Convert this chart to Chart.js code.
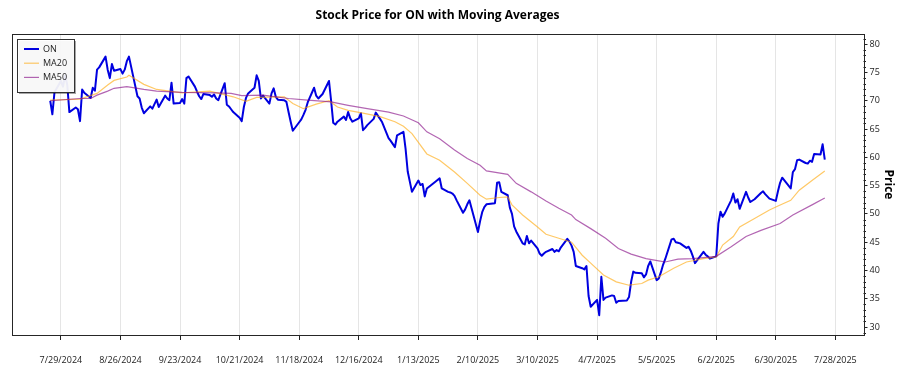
<!DOCTYPE html>
<html>
<head>
<meta charset="utf-8">
<script src="https://cdn.jsdelivr.net/npm/chart.js@4.4.1/dist/chart.umd.min.js"></script>
<style>
  html, body { margin: 0; padding: 0; background: #ffffff; }
  canvas { display: block; }
</style>
</head>
<body>
<canvas id="c" width="900" height="375"></canvas>
<script>
// ---------------- DATA ----------------
const startDate = '2024-07-24';
const endDate = '2025-07-23';
const marketHolidays = ['2024-09-02','2024-11-28','2024-12-25','2025-01-01','2025-01-09',
  '2025-01-20','2025-02-17','2025-04-18','2025-05-26','2025-06-19','2025-07-04'];

// ON daily close (one value per trading day)
const onClose = [
  70.0, 67.6, 71.5,
  73.5, 72.5, 74.5, 72.8, 68.0,
  68.8, 68.5, 66.4, 72.0, 71.4,
  70.5, 72.3, 71.8, 75.5, 75.9,
  77.8, 75.5, 74.0, 76.5, 75.3,
  75.6, 74.8, 75.5, 77.0, 77.8,
  70.8, 70.4, 68.8, 67.8,
  69.0, 68.6, 69.4, 70.2, 68.9,
  70.9, 70.4, 70.1, 73.2, 69.5,
  69.6, 70.3, 69.5, 74.0, 74.3,
  72.5, 71.6, 70.8, 70.3, 71.2,
  71.0, 70.7, 71.1, 70.4, 70.1,
  73.1, 69.3, 69.0, 68.5, 68.0,
  67.0, 66.4, 68.9, 70.5, 71.3,
  72.3, 74.5, 73.5, 70.4, 70.9,
  69.5, 71.3, 72.2, 70.7, 70.2,
  70.1, 69.8, 68.0, 66.3, 64.7,
  66.2, 66.7, 67.5, 68.4, 69.7,
  72.3, 70.9, 70.4, 71.2,
  73.5, 70.0, 66.1, 65.8, 66.3,
  67.2, 66.6, 68.0, 66.9, 66.3,
  66.9, 67.8, 64.8, 65.2, 65.7,
  66.8, 67.9, 66.8, 66.2,
  63.4, 62.9, 61.8, 63.9,
  64.5, 61.5, 57.5, 53.9,
  55.9, 55.1, 55.3, 53.1, 54.5,
  55.7, 56.0, 56.3, 54.5,
  53.9, 53.8, 53.6, 53.2, 52.4,
  50.2, 50.8, 51.7, 52.4, 51.0,
  46.8, 48.7, 50.3, 51.2, 51.7,
  51.9, 55.5, 55.6, 53.9,
  53.3, 51.1, 50.0, 47.8, 46.9,
  44.8, 44.6, 46.1, 44.8, 45.3,
  43.9, 43.0, 42.6, 43.0, 43.3,
  43.8, 43.3, 43.6, 43.4, 44.1,
  45.6, 45.1, 44.4, 43.3, 40.8,
  40.4, 40.2, 40.8, 35.5, 33.6,
  34.8, 32.1, 38.9, 34.8, 35.2,
  35.6, 35.5, 34.3, 34.6,
  34.7, 35.3, 38.0, 39.8, 39.6,
  39.5, 38.8, 39.3, 40.8, 41.6,
  38.3, 38.6, 39.7, 41.0, 42.0,
  45.5, 45.6, 45.0, 44.9, 44.8,
  44.0, 44.2, 43.5, 42.5, 41.3,
  43.3, 42.8, 42.5, 42.1,
  42.5, 48.3, 50.4, 49.5, 50.1,
  52.4, 53.6, 52.0, 52.6, 50.9,
  53.9, 52.9, 52.1, 52.6,
  53.7, 54.0, 53.5, 53.1, 52.7,
  52.3, 54.0, 55.5, 56.4,
  54.5, 57.4, 57.9, 59.5, 59.6,
  59.0, 58.9, 59.4, 59.2, 60.6,
  60.5, 62.3, 59.6
];

const ma20Dates = ['2024-07-24','2024-08-07','2024-08-15','2024-08-20','2024-08-23','2024-08-29','2024-08-30',
  '2024-09-06','2024-09-12','2024-09-24','2024-10-07','2024-10-18','2024-10-24','2024-10-29','2024-11-11',
  '2024-11-15','2024-11-20','2024-11-26','2024-12-02','2024-12-06','2024-12-11','2024-12-18','2024-12-26',
  '2025-01-02','2025-01-06','2025-01-10','2025-01-17','2025-01-23','2025-01-30','2025-02-05','2025-02-11',
  '2025-02-14','2025-02-20','2025-02-24','2025-02-26','2025-03-03','2025-03-10','2025-03-14','2025-03-20',
  '2025-03-26','2025-03-31','2025-04-04','2025-04-10','2025-04-16','2025-04-22','2025-04-28','2025-05-01',
  '2025-05-06','2025-05-13','2025-05-19','2025-05-27','2025-06-02','2025-06-05','2025-06-10','2025-06-13',
  '2025-06-20','2025-06-27','2025-07-01','2025-07-07','2025-07-11','2025-07-17','2025-07-23'];
const ma20Values = [70.1, 70.3, 71.3, 72.8, 73.6, 74.2, 74.5,
  72.9, 72.0, 71.4, 71.7, 70.7, 69.9, 70.6, 70.7,
  69.5, 68.6, 69.4, 70.0, 68.9, 68.3, 67.8, 67.2,
  66.3, 65.5, 64.2, 60.6, 59.5, 57.4, 55.4, 53.3,
  52.6, 52.9, 53.0, 51.6, 49.8, 47.7, 46.4, 45.7,
  45.0, 42.7, 41.3, 39.2, 38.0, 37.4, 37.7, 38.3,
  38.9, 40.4, 41.5, 42.1, 42.4, 44.5, 46.0, 47.7,
  49.2, 50.7, 51.4, 52.4, 54.2, 55.9, 57.6];

const ma50Dates = ['2024-07-24','2024-08-07','2024-08-12','2024-08-15','2024-08-20','2024-08-23','2024-08-29',
  '2024-09-06','2024-09-12','2024-09-24','2024-10-10','2024-10-17','2024-10-22','2024-11-01','2024-11-13',
  '2024-11-22','2024-12-03','2024-12-11','2024-12-20','2024-12-30','2025-01-06','2025-01-13','2025-01-17',
  '2025-01-23','2025-01-30','2025-02-05','2025-02-11','2025-02-14','2025-02-24','2025-02-28','2025-03-07',
  '2025-03-14','2025-03-20','2025-03-26','2025-03-28','2025-04-04','2025-04-11','2025-04-17','2025-04-23',
  '2025-04-30','2025-05-06','2025-05-09','2025-05-15','2025-05-22','2025-06-02','2025-06-09','2025-06-16',
  '2025-06-23','2025-07-02','2025-07-08','2025-07-17','2025-07-23'];
const ma50Values = [70.0, 70.4, 70.4, 71.0, 71.7, 72.2, 72.5,
  72.0, 71.7, 71.5, 71.4, 71.3, 70.9, 71.0, 70.4,
  70.1, 69.8, 69.2, 68.6, 68.0, 67.3, 66.1, 64.5,
  63.3, 61.3, 59.8, 58.6, 57.6, 57.0, 55.4, 53.9,
  52.3, 51.0, 49.8, 49.0, 47.4, 45.7, 43.9, 42.9,
  42.1, 41.7, 41.5, 42.0, 42.1, 42.5, 44.2, 46.0,
  47.1, 48.3, 49.8, 51.6, 52.8];

const xTickLabels = ['7/29/2024','8/26/2024','9/23/2024','10/21/2024','11/18/2024','12/16/2024',
  '1/13/2025','2/10/2025','3/10/2025','4/7/2025','5/5/2025','6/2/2025','6/30/2025','7/28/2025'];
const yMajorTicks = [30, 35, 40, 45, 50, 55, 60, 65, 70, 75, 80];

// ---------------- HELPERS ----------------
const DAY = 86400000;
function isoToUTC(iso) { const p = iso.split('-').map(Number); return Date.UTC(p[0], p[1] - 1, p[2]); }
function mdyToUTC(s) { const p = s.split('/').map(Number); return Date.UTC(p[2], p[0] - 1, p[1]); }
const T0 = isoToUTC(startDate);
const dayOf = iso => (isoToUTC(iso) - T0) / DAY;

const tradingDays = [];
for (let t = T0; t <= isoToUTC(endDate); t += DAY) {
  const dt = new Date(t);
  const wd = dt.getUTCDay();
  const iso = dt.toISOString().slice(0, 10);
  if (wd === 0 || wd === 6 || marketHolidays.includes(iso)) continue;
  tradingDays.push(iso);
}
const onPoints = tradingDays.slice(0, onClose.length).map((d, i) => ({ x: dayOf(d), y: onClose[i] }));
const ma20Points = ma20Dates.map((d, i) => ({ x: dayOf(d), y: ma20Values[i] }));
const ma50Points = ma50Dates.map((d, i) => ({ x: dayOf(d), y: ma50Values[i] }));
const xTickDays = xTickLabels.map(s => (mdyToUTC(s) - T0) / DAY);
const lastDay = dayOf(endDate);
const xMin = -0.05 * lastDay, xMax = lastDay * 1.05;

const FONT = '"Open Sans", "Noto Sans", sans-serif';
const COL_ON = '#0000e0';
const COL_MA20 = 'rgba(255,165,0,0.6)';
const COL_MA50 = 'rgba(128,0,128,0.6)';

// ---------------- PLUGINS ----------------
const framePlugin = {
  id: 'frameAndLegend',
  afterDatasetsDraw(chart) {
    const { ctx, chartArea: a } = chart;
    const ys = chart.scales.y;
    ctx.save();
    // minor ticks on right axis
    ctx.strokeStyle = '#222';
    ctx.lineWidth = 1;
    for (let v = Math.ceil(ys.min); v <= Math.floor(ys.max); v++) {
      if (v % 5 === 0) continue;
      const py = Math.round(ys.getPixelForValue(v)) + 0.5;
      ctx.beginPath(); ctx.moveTo(a.right, py); ctx.lineTo(a.right + 2.5, py); ctx.stroke();
    }
    // frame
    ctx.strokeStyle = '#262626';
    ctx.lineWidth = 1;
    ctx.strokeRect(Math.round(a.left) + 0.5, Math.round(a.top) + 0.5,
      Math.round(a.right) - Math.round(a.left), Math.round(a.bottom) - Math.round(a.top));

    // legend
    const items = chart.data.datasets.map(ds => ({ label: ds.label, color: ds.borderColor, w: ds.borderWidth }));
    const lx = Math.round(a.left) + 5, ly = Math.round(a.top) + 5;
    const lw = 57, lh = 53;
    ctx.fillStyle = 'rgba(0,0,0,0.35)';
    ctx.fillRect(lx + 2, ly + 2, lw, lh);
    ctx.fillStyle = 'rgba(255,255,255,0.92)';
    ctx.fillRect(lx, ly, lw, lh);
    ctx.strokeStyle = '#333';
    ctx.strokeRect(lx + 0.5, ly + 0.5, lw, lh);
    ctx.font = '9px ' + FONT;
    ctx.textBaseline = 'middle';
    ctx.textAlign = 'left';
    items.forEach((it, i) => {
      const yy = ly + 10 + i * 14.2;
      ctx.strokeStyle = it.color;
      ctx.lineWidth = it.w;
      ctx.beginPath(); ctx.moveTo(lx + 7, yy); ctx.lineTo(lx + 22, yy); ctx.stroke();
      ctx.fillStyle = '#222';
      ctx.fillText(it.label, lx + 26, yy);
    });
    ctx.restore();
  }
};

// ---------------- CHART ----------------
new Chart(document.getElementById('c').getContext('2d'), {
  type: 'line',
  data: {
    datasets: [
      { label: 'ON', data: onPoints, borderColor: COL_ON, borderWidth: 2, pointRadius: 0,
        tension: 0, borderJoinStyle: 'round', order: 3 },
      { label: 'MA20', data: ma20Points, borderColor: COL_MA20, borderWidth: 1.2, pointRadius: 0,
        tension: 0, order: 2 },
      { label: 'MA50', data: ma50Points, borderColor: COL_MA50, borderWidth: 1.2, pointRadius: 0,
        tension: 0, order: 1 }
    ]
  },
  options: {
    responsive: false,
    animation: false,
    devicePixelRatio: 1,
    layout: { padding: { left: 11.5, right: 0, top: 0, bottom: 0 } },
    plugins: {
      legend: { display: false },
      tooltip: { enabled: false },
      title: {
        display: true,
        text: 'Stock Price for ON with Moving Averages',
        fullSize: false,
        color: '#000',
        font: { family: FONT, size: 12, weight: 'bold' },
        padding: { top: 8.8, bottom: 10.8 }
      }
    },
    scales: {
      x: {
        type: 'linear',
        min: xMin,
        max: xMax,
        border: { display: false },
        grid: { color: 'rgba(0,0,0,0.1)', lineWidth: 1, drawOnChartArea: true, tickColor: '#222', tickLength: 5 },
        ticks: {
          autoSkip: false, maxRotation: 0, minRotation: 0, padding: 15,
          color: '#222', font: { family: FONT, size: 9 },
          callback: (v) => { const i = xTickDays.indexOf(v); return i >= 0 ? xTickLabels[i] : ''; }
        },
        afterBuildTicks: (s) => { s.ticks = xTickDays.map(v => ({ value: v })); },
        afterFit: (s) => { s.height = 40; }
      },
      y: {
        type: 'linear',
        position: 'right',
        min: 28.6,
        max: 81.8,
        border: { display: false },
        grid: { drawOnChartArea: false, tickLength: 4, tickColor: '#222' },
        ticks: { padding: 2, color: '#222', font: { family: FONT, size: 9 } },
        afterBuildTicks: (s) => { s.ticks = yMajorTicks.map(v => ({ value: v })); },
        title: { display: true, text: 'Price', color: '#000', font: { family: FONT, size: 12, weight: 'bold' },
          padding: { top: 4, bottom: 0 } },
        afterFit: (s) => { s.width = 36.5; }
      }
    }
  },
  plugins: [framePlugin]
});
</script>
</body>
</html>
